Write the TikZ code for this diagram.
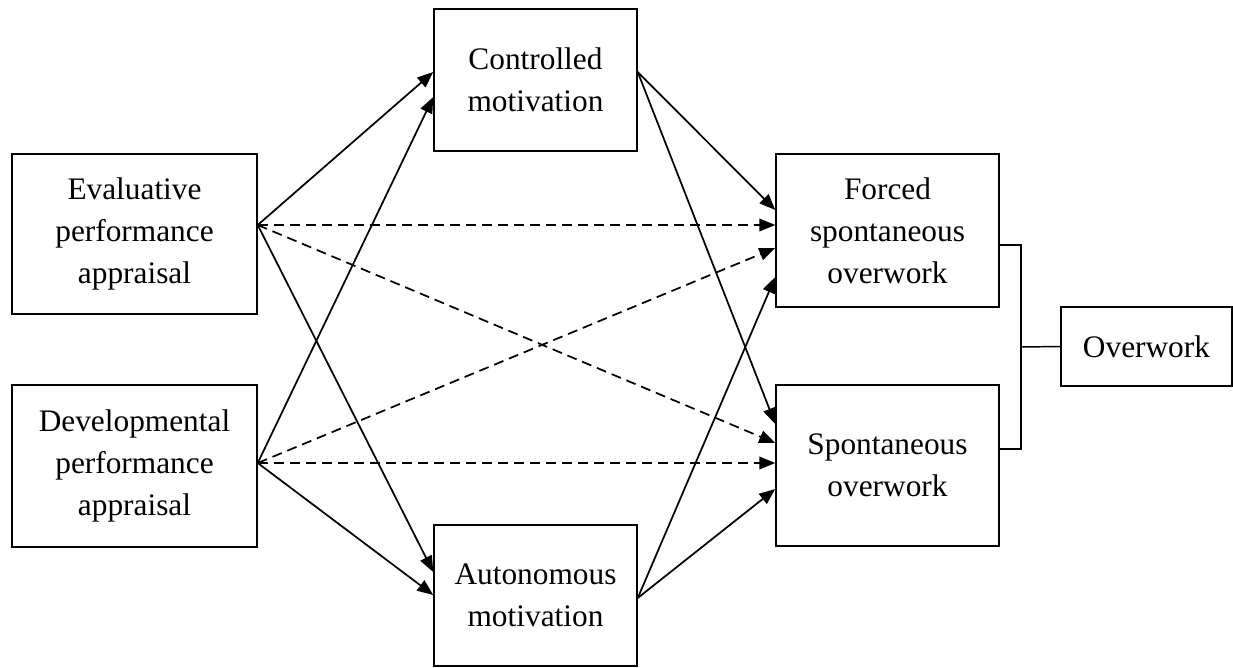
\documentclass[tikz,border=0pt]{standalone}
\usepackage{fontspec}
\setmainfont{Liberation Serif}
\usetikzlibrary{arrows.meta}
\begin{document}
\begin{tikzpicture}[x=0.75pt,y=-0.75pt,
  box/.style={draw=black,line width=1.1pt,rectangle,inner sep=0pt,align=center,
    font=\fontsize{23.5}{31.5}\selectfont},
  conn/.style={line width=1.3pt,-{Triangle[length=12pt,width=9.5pt]}},
  dconn/.style={conn,dash pattern=on 7.5pt off 4.5pt},
  bracket/.style={line width=1.1pt}]
\useasboundingbox (0,0) rectangle (1233,668);
\node[box,minimum width=245*0.75pt,minimum height=160*0.75pt] (eval) at (134.5,234) {Evaluative\\performance\\appraisal};
\node[box,minimum width=245*0.75pt,minimum height=162*0.75pt] (dev) at (134.5,466) {Developmental\\performance\\appraisal};
\node[box,minimum width=203*0.75pt,minimum height=142*0.75pt] (ctrl) at (535.5,80) {Controlled\\motivation};
\node[box,minimum width=203*0.75pt,minimum height=141*0.75pt] (auto) at (535.5,595.5) {Autonomous\\motivation};
\node[box,minimum width=223*0.75pt,minimum height=153*0.75pt] (forced) at (887.5,230.5) {Forced\\spontaneous\\overwork};
\node[box,minimum width=223*0.75pt,minimum height=161*0.75pt] (spont) at (887.5,465.5) {Spontaneous\\overwork};
\node[box,minimum width=171*0.75pt,minimum height=79*0.75pt] (over) at (1146.5,346.5) {Overwork};
% from evaluative
\draw[conn] (eval.east |- 0,225) -- (ctrl.west |- 0,72);
\draw[conn] (eval.east |- 0,225) -- (auto.west |- 0,572);
\draw[dconn] (eval.east |- 0,225) -- (forced.west |- 0,225);
\draw[dconn] (eval.east |- 0,225) -- (spont.west |- 0,443);
% from developmental
\draw[conn] (dev.east |- 0,463) -- (ctrl.west |- 0,97);
\draw[conn] (dev.east |- 0,463) -- (auto.west |- 0,595);
\draw[dconn] (dev.east |- 0,463) -- (forced.west |- 0,248);
\draw[dconn] (dev.east |- 0,463) -- (spont.west |- 0,463);
% from controlled
\draw[conn] (ctrl.east |- 0,72) -- (forced.west |- 0,210);
\draw[conn] (ctrl.east |- 0,72) -- (spont.west |- 0,424);
% from autonomous
\draw[conn] (auto.east |- 0,598) -- (forced.west |- 0,277);
\draw[conn] (auto.east |- 0,598) -- (spont.west |- 0,489);
% bracket
\coordinate (br) at (1021,347);
\draw[bracket] (forced.east |- 0,245) -| (br) |- (spont.east |- 0,449);
\draw[bracket] (br) -- (over.west);
\end{tikzpicture}
\end{document}
